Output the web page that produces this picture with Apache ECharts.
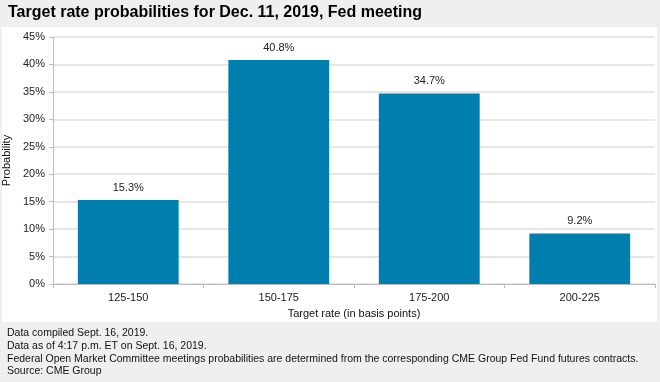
<!DOCTYPE html>
<html><head><meta charset="utf-8">
<script src="https://cdn.jsdelivr.net/npm/echarts@6/dist/echarts.min.js"></script>
<style>html,body{margin:0;padding:0;background:#efefef}#c{width:660px;height:382px}</style>
</head><body><div id="c"></div>
<script>
const categories = ['125-150', '150-175', '175-200', '200-225'];
const values = [15.3, 40.8, 34.7, 9.2];
const titleText = 'Target rate probabilities for Dec. 11, 2019, Fed meeting';
const footnotes = [
  'Data compiled Sept. 16, 2019.',
  'Data as of 4:17 p.m. ET on Sept. 16, 2019.',
  'Federal Open Market Committee meetings probabilities are determined from the corresponding CME Group Fed Fund futures contracts.',
  'Source: CME Group'
];
const chart = echarts.init(document.getElementById('c'));
const font = '"Liberation Sans", Arial, sans-serif';
chart.setOption({
  backgroundColor: '#efefef',
  animation: false,
  graphic: [
    {type: 'rect', z: -10, shape: {x: 2, y: 27, width: 655, height: 295}, style: {fill: '#ffffff'}},
    {type: 'text', left: 8, top: 5, style: {text: titleText, font: 'bold 16px ' + font, fill: '#000'}},
    ...footnotes.map((t, i) => ({type: 'text', left: 7, top: 328 + i * 12.7,
      style: {text: t, font: '10.5px ' + font, fill: '#111'}}))
  ],
  grid: {left: 53, right: 5, top: 37, bottom: 98, outerBoundsMode: 'none', containLabel: false},
  xAxis: {
    type: 'category', data: categories,
    name: 'Target rate (in basis points)', nameLocation: 'middle', nameGap: 24,
    nameTextStyle: {fontFamily: font, fontSize: 11, color: '#111'},
    axisLine: {lineStyle: {color: '#bdbdbd'}},
    axisTick: {show: true, length: 4, lineStyle: {color: '#bdbdbd'}},
    axisLabel: {fontFamily: font, fontSize: 11, color: '#222', margin: 8}
  },
  yAxis: {
    type: 'value', min: 0, max: 45, interval: 5,
    name: 'Probability', nameLocation: 'middle', nameGap: 34, nameRotate: 90,
    nameTextStyle: {fontFamily: font, fontSize: 11, color: '#111'},
    axisLine: {show: true, lineStyle: {color: '#bdbdbd'}},
    axisTick: {show: true, length: 4, lineStyle: {color: '#bdbdbd'}},
    axisLabel: {fontFamily: font, fontSize: 11, color: '#222', formatter: '{value}%', margin: 8},
    splitLine: {lineStyle: {color: '#e6e6e6', width: 2}}
  },
  series: [{
    type: 'bar', data: values, barWidth: '67%',
    itemStyle: {color: '#007fae'},
    label: {show: true, position: 'top', distance: 7, formatter: p => p.value.toFixed(1) + '%',
      fontFamily: font, fontSize: 11, color: '#222'}
  }]
});
</script></body></html>
